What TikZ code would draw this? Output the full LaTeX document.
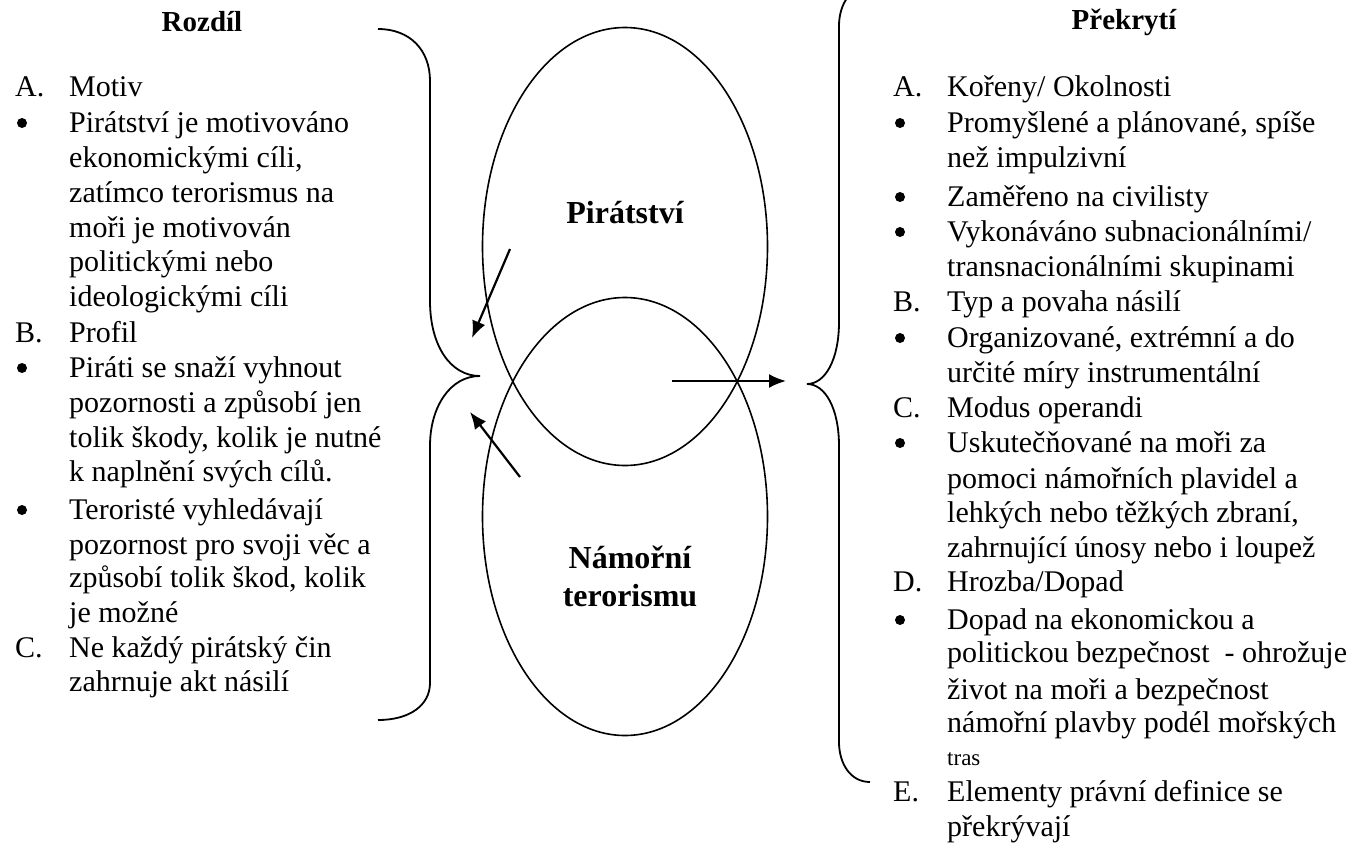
\documentclass[tikz,border=0pt]{standalone}
\usepackage{fontspec}
\setmainfont{Liberation Serif}
\usetikzlibrary{shapes.geometric,arrows.meta}

\tikzset{
  txt/.style={anchor=base west, inner sep=0pt, font=\fontsize{30}{35}\selectfont},
  dot/.style={circle, fill, inner sep=0pt, minimum size=10pt},
  head/.style={inner sep=0pt, font=\fontsize{29}{35}\selectfont\bfseries},
  ring/.style={draw, ellipse, line width=1.6pt, minimum width=285pt, minimum height=438pt, inner sep=0pt},
  ptr/.style={line width=2.2pt, -{Latex[length=17pt,width=14pt]}},
  brace/.style={line width=1.8pt}
}

\begin{document}
\begin{tikzpicture}[x=1pt,y=-1pt]
  \useasboundingbox (0,0) rectangle (1353,844);
  \clip (0,0) rectangle (1353,844);

  % the two sets
  \node[ring] (pir) at (625,246.5) {};
  \node[ring] (ter) at (625,516.5) {};
  \node[head, font=\fontsize{32}{38}\selectfont\bfseries] (pirname) at (625,213) {Pirátství};
  \node[head, font=\fontsize{32}{38}\selectfont\bfseries, align=center] (tername) at (630,576) {Námořní\\terorismu};

  % braces
  \coordinate (lcusp) at (480,376);
  \coordinate (rcusp) at (807,384);
  \draw[brace] (378,29) .. controls (410,29) and (430,50) .. (430,81) -- (430,301)
    .. controls (430,345) and (450,376) .. (lcusp)
    .. controls (450,376) and (430,407) .. (430,446) -- (430,683)
    .. controls (430,705) and (410,720) .. (378,720);
  \draw[brace] (870,-14) .. controls (850,-14) and (839,5) .. (839,26) -- (839,322)
    .. controls (839,360) and (825,384) .. (rcusp)
    .. controls (825,384) and (839,408) .. (839,446) -- (839,742)
    .. controls (839,763) and (850,782) .. (870,782);

  % arrows
  \coordinate (p1) at (510,249);
  \coordinate (p1tip) at (472,338);
  \coordinate (t1) at (520,477);
  \coordinate (t1tip) at (470,412);
  \coordinate (c1) at (672,381);
  \coordinate (c1tip) at (786,381);
  \draw[ptr] (p1) -- (p1tip);
  \draw[ptr] (t1) -- (t1tip);
  \draw[ptr] (c1) -- (c1tip);

  % left column
  \node[head] (rozdil) at (202,22) {Rozdíl};
  \foreach \y/\m [count=\i] in {96/A., 342/B., 657/C.}
    \node[txt] (lm\i) at (15,\y) {\m};
  \foreach \y [count=\i] in {132, 377, 519}
    \node[dot] (lb\i) at (22,\y-9) {};
  \foreach \y/\t [count=\i] in {96/Motiv, 132/Pirátství je motivováno,
      167/{ekonomickými cíli,}, 202/zatímco terorismus na, 237/moři je motivován,
      271/politickými nebo, 306/ideologickými cíli, 342/Profil,
      377/Piráti se snaží vyhnout, 412/pozornosti a způsobí jen,
      447/{tolik škody, kolik je nutné}, 481/k naplnění svých cílů.,
      519/Teroristé vyhledávají, 554/pozornost pro svoji věc a,
      587/{způsobí tolik škod, kolik}, 622/je možné, 657/Ne každý pirátský čin,
      691/zahrnuje akt násilí}
    \node[txt] (lt\i) at (69,\y) {\t};

  % right column
  \node[head] (prekryti) at (1124,22) {Překrytí};
  \foreach \y/\m [count=\i] in {96/A., 311/B., 417/C., 591/D., 801/E.}
    \node[txt] (rm\i) at (893,\y) {\m};
  \foreach \y [count=\i] in {132, 206, 241, 347, 452, 629}
    \node[dot] (rb\i) at (900,\y-9) {};
  \foreach \y/\t [count=\i] in {96/{Kořeny/ Okolnosti}, 132/{Promyšlené a plánované, spíše},
      167/než impulzivní, 206/Zaměřeno na civilisty, 241/{Vykonáváno subnacionálními/},
      276/transnacionálními skupinami, 311/Typ a povaha násilí,
      347/{Organizované, extrémní a do}, 382/určité míry instrumentální,
      417/Modus operandi, 452/Uskutečňované na moři za, 488/pomoci námořních plavidel a,
      522/{lehkých nebo těžkých zbraní,}, 557/zahrnující únosy nebo i loupež,
      591/{Hrozba/Dopad}, 629/Dopad na ekonomickou a,
      662/politickou bezpečnost\ \ - ohrožuje, 699/život na moři a bezpečnost,
      732/námořní plavby podél mořských, 801/Elementy právní definice se,
      836/překrývají}
    \node[txt] (rt\i) at (947,\y) {\t};
  \node[txt, font=\fontsize{23}{28}\selectfont] (rtras) at (947,765) {tras};
\end{tikzpicture}
\end{document}
